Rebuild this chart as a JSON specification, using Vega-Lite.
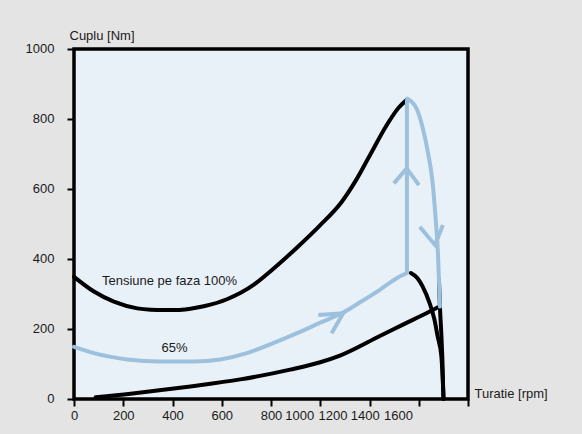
{
  "$schema": "https://vega.github.io/schema/vega-lite/v6.json",
  "width": 394,
  "height": 350,
  "autosize": {"type": "none"},
  "padding": {"left": 74, "top": 49, "right": 114, "bottom": 35},
  "background": "#e4e4e4",
  "config": {
    "view": {"fill": "#e8f0f8", "stroke": "#000000", "strokeWidth": 3.5},
    "font": "Liberation Sans",
    "axis": {
      "domain": false,
      "grid": false,
      "tickColor": "#000000",
      "tickWidth": 2,
      "tickSize": 7,
      "format": "d",
      "labelOverlap": false,
      "labelFont": "Liberation Sans",
      "labelFontSize": 13,
      "labelColor": "#1a1a1a",
      "titleFont": "Liberation Sans",
      "titleFontSize": 13,
      "titleFontWeight": "normal",
      "titleColor": "#1a1a1a"
    }
  },
  "datasets": {
    "curves": [
      {"curve": "C", "x": 88, "y": 5}, {"curve": "C", "x": 230, "y": 15}, {"curve": "C", "x": 338, "y": 24},
      {"curve": "C", "x": 473, "y": 36}, {"curve": "C", "x": 675, "y": 56}, {"curve": "C", "x": 878, "y": 84},
      {"curve": "C", "x": 1000, "y": 105}, {"curve": "C", "x": 1080, "y": 124}, {"curve": "C", "x": 1242, "y": 180},
      {"curve": "C", "x": 1340, "y": 214}, {"curve": "C", "x": 1431, "y": 245}, {"curve": "C", "x": 1478, "y": 262},

      {"curve": "B", "x": 1368, "y": 360}, {"curve": "B", "x": 1395, "y": 345}, {"curve": "B", "x": 1416, "y": 321},
      {"curve": "B", "x": 1444, "y": 274}, {"curve": "B", "x": 1464, "y": 226}, {"curve": "B", "x": 1477, "y": 178},
      {"curve": "B", "x": 1492, "y": 121}, {"curve": "B", "x": 1498, "y": 46}, {"curve": "B", "x": 1501, "y": 0},

      {"curve": "T", "x": 1482, "y": 340}, {"curve": "T", "x": 1486, "y": 264}, {"curve": "T", "x": 1492, "y": 180},
      {"curve": "T", "x": 1497, "y": 90}, {"curve": "T", "x": 1500, "y": 0},

      {"curve": "A", "x": 0, "y": 349}, {"curve": "A", "x": 81, "y": 307}, {"curve": "A", "x": 162, "y": 278},
      {"curve": "A", "x": 257, "y": 259}, {"curve": "A", "x": 311, "y": 255}, {"curve": "A", "x": 365, "y": 254},
      {"curve": "A", "x": 419, "y": 254}, {"curve": "A", "x": 473, "y": 258}, {"curve": "A", "x": 527, "y": 265},
      {"curve": "A", "x": 621, "y": 285}, {"curve": "A", "x": 729, "y": 326}, {"curve": "A", "x": 786, "y": 358},
      {"curve": "A", "x": 906, "y": 433}, {"curve": "A", "x": 996, "y": 494}, {"curve": "A", "x": 1086, "y": 562},
      {"curve": "A", "x": 1146, "y": 626}, {"curve": "A", "x": 1206, "y": 702}, {"curve": "A", "x": 1266, "y": 778},
      {"curve": "A", "x": 1319, "y": 833}, {"curve": "A", "x": 1354, "y": 856}
    ],
    "path": [
      {"part": "D", "x": 0, "y": 149}, {"part": "D", "x": 81, "y": 131}, {"part": "D", "x": 216, "y": 113},
      {"part": "D", "x": 351, "y": 107}, {"part": "D", "x": 486, "y": 107}, {"part": "D", "x": 594, "y": 113},
      {"part": "D", "x": 702, "y": 131}, {"part": "D", "x": 816, "y": 162}, {"part": "D", "x": 918, "y": 192},
      {"part": "D", "x": 1000, "y": 218}, {"part": "D", "x": 1093, "y": 247}, {"part": "D", "x": 1170, "y": 280},
      {"part": "D", "x": 1242, "y": 312}, {"part": "D", "x": 1312, "y": 346}, {"part": "D", "x": 1352, "y": 360},

      {"part": "E", "x": 1354, "y": 858}, {"part": "E", "x": 1391, "y": 830}, {"part": "E", "x": 1418, "y": 769},
      {"part": "E", "x": 1438, "y": 702}, {"part": "E", "x": 1455, "y": 626}, {"part": "E", "x": 1465, "y": 549},
      {"part": "E", "x": 1472, "y": 483}, {"part": "E", "x": 1478, "y": 416}, {"part": "E", "x": 1482, "y": 340},
      {"part": "E", "x": 1486, "y": 264}
    ],
    "jump": [
      {"x": 1352, "y": 360}, {"x": 1352, "y": 856}
    ],
    "arrows": [
      {"arrow": "right", "k": 1, "x": 992, "y": 240}, {"arrow": "right", "k": 2, "x": 1093, "y": 245}, {"arrow": "right", "k": 3, "x": 1046, "y": 188},
      {"arrow": "up", "k": 1, "x": 1299, "y": 616}, {"arrow": "up", "k": 2, "x": 1351, "y": 659}, {"arrow": "up", "k": 3, "x": 1401, "y": 611},
      {"arrow": "down", "k": 1, "x": 1404, "y": 492}, {"arrow": "down", "k": 2, "x": 1466, "y": 440}, {"arrow": "down", "k": 3, "x": 1498, "y": 497}
    ],
    "labels": [
      {"text": "Tensiune pe faza 100%", "x": 388, "y": 337},
      {"text": "65%", "x": 408, "y": 146}
    ]
  },
  "encoding": {
    "x": {
      "field": "x",
      "type": "quantitative",
      "scale": {"domain": [0, 1600], "nice": false, "zero": false},
      "axis": {
        "title": "Turatie [rpm]",
        "titleAlign": "left",
        "titleBaseline": "middle",
        "titleX": 400,
        "titleY": -6,
        "values": [0, 200, 400, 600, 800, 1000, 1200, 1400, 1600],
        "labelFlush": false,
        "labelPadding": 3,
        "labelOffset": {
          "condition": [
            {"test": "datum.value == 1000", "value": -21},
            {"test": "datum.value == 1200", "value": -37},
            {"test": "datum.value == 1400", "value": -54},
            {"test": "datum.value == 1600", "value": -70}
          ],
          "value": 0
        }
      }
    },
    "y": {
      "field": "y",
      "type": "quantitative",
      "scale": {"domain": [0, 1000], "nice": false},
      "axis": {
        "title": "Cuplu [Nm]",
        "titleAngle": 0,
        "titleAlign": "left",
        "titleBaseline": "middle",
        "titleX": -5,
        "titleY": -14,
        "values": [0, 200, 400, 600, 800, 1000],
        "labelPadding": 13,
        "labelOffset": -1
      }
    }
  },
  "layer": [
    {
      "data": {"name": "curves"},
      "mark": {"type": "line", "color": "#000000", "strokeWidth": 4, "interpolate": "monotone", "strokeCap": "round"},
      "encoding": {"detail": {"field": "curve"}}
    },
    {
      "data": {"name": "path"},
      "mark": {"type": "line", "color": "#9dc1dc", "strokeWidth": 4, "interpolate": "monotone", "strokeCap": "round"},
      "encoding": {"detail": {"field": "part"}}
    },
    {
      "data": {"name": "jump"},
      "mark": {"type": "line", "color": "#9dc1dc", "strokeWidth": 4}
    },
    {
      "data": {"name": "arrows"},
      "mark": {"type": "line", "color": "#9dc1dc", "strokeWidth": 4, "strokeJoin": "miter"},
      "encoding": {
        "detail": {"field": "arrow"},
        "order": {"field": "k", "type": "quantitative"}
      }
    },
    {
      "data": {"name": "labels"},
      "mark": {"type": "text", "font": "Liberation Sans", "fontSize": 13, "color": "#1a1a1a", "align": "center", "baseline": "middle"},
      "encoding": {"text": {"field": "text"}}
    }
  ]
}
